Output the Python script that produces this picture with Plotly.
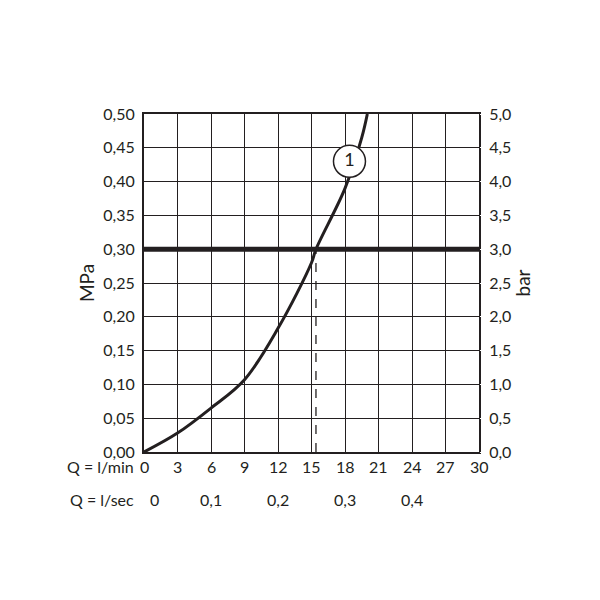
import plotly.graph_objects as go

flow_lmin = [0, 3, 6, 9, 12, 15, 15.4, 18, 19.5, 20]
pressure_mpa = [0, 0.028, 0.065, 0.107, 0.183, 0.28, 0.30, 0.39, 0.465, 0.50]
lmin_ticks = [0, 3, 6, 9, 12, 15, 18, 21, 24, 27, 30]
lsec_pos = [0.9, 6, 12, 18, 24, 30.5]
lsec_labels = ["0", "0,1", "0,2", "0,3", "0,4", "0,5"]
mpa_ticks = [i * 0.05 for i in range(11)]
limit_mpa = 0.30
limit_flow = 15.4
label_pos = (18.4, 0.43)

ink = "#231f20"
font = dict(family="Lato, Open Sans, sans-serif", size=16, color=ink)

fig = go.Figure()
fig.add_trace(go.Scatter(x=flow_lmin, y=pressure_mpa, mode="lines",
                         line=dict(color=ink, width=3, shape="spline"), showlegend=False))
fig.add_trace(go.Scatter(x=[0, 30], y=[limit_mpa, limit_mpa], mode="lines",
                         line=dict(color=ink, width=5), showlegend=False))
fig.add_trace(go.Scatter(x=[limit_flow, limit_flow], y=[0, limit_mpa], mode="lines",
                         line=dict(color=ink, width=1.3, dash="dash"), showlegend=False))
fig.add_trace(go.Scatter(x=[label_pos[0]], y=[label_pos[1]], mode="markers+text", text=["1"],
                         textposition="middle center", textfont=dict(size=18, color=ink),
                         marker=dict(size=32, color="white", line=dict(color=ink, width=1.5)),
                         showlegend=False))
# dummy trace for right axis
fig.add_trace(go.Scatter(x=[0], y=[0], yaxis="y2", mode="markers",
                         marker=dict(opacity=0), showlegend=False, hoverinfo="skip"))

fig.add_annotation(x=0, y=-0.077, xref="x", yref="paper", text="Q = l/min", showarrow=False,
                   xanchor="right", xshift=-8, font=font)
for xv in lmin_ticks:
    fig.add_annotation(x=xv, y=-0.077, yref="paper", text=str(xv), showarrow=False, font=font)
fig.add_annotation(x=0, y=-0.175, yref="paper", text="Q = l/sec", showarrow=False,
                   xanchor="right", xshift=-8, font=font)
for xv, t in zip(lsec_pos, lsec_labels):
    fig.add_annotation(x=xv, y=-0.175, yref="paper", text=t, showarrow=False, font=font)

fig.update_layout(
    width=600, height=600, paper_bgcolor="white", plot_bgcolor="white",
    margin=dict(l=136, r=129, t=106, b=156), separators=",.", font=font,
    xaxis=dict(range=[0, 30], tickvals=lmin_ticks, showticklabels=False, automargin=False,
               showgrid=True, gridcolor=ink, gridwidth=1.3, zeroline=False,
               showline=True, linecolor=ink, linewidth=2, mirror=True),
    yaxis=dict(range=[0, 0.5], tickvals=mpa_ticks, tickformat=".2f", automargin=False,
               showgrid=True, gridcolor=ink, gridwidth=1.3, zeroline=False,
               showline=True, linecolor=ink, linewidth=2, mirror=True,
               title=dict(text="MPa", standoff=4), ticks="outside", ticklen=4, tickcolor="white"),
    yaxis2=dict(range=[0, 5], tickvals=[i * 0.5 for i in range(11)], tickformat=".1f",
                overlaying="y", side="right", showgrid=False, zeroline=False, automargin=False,
                ticks="outside", ticklen=6, tickcolor="white",
                title=dict(text="bar", standoff=4)),
)

fig.write_html("out.html")
